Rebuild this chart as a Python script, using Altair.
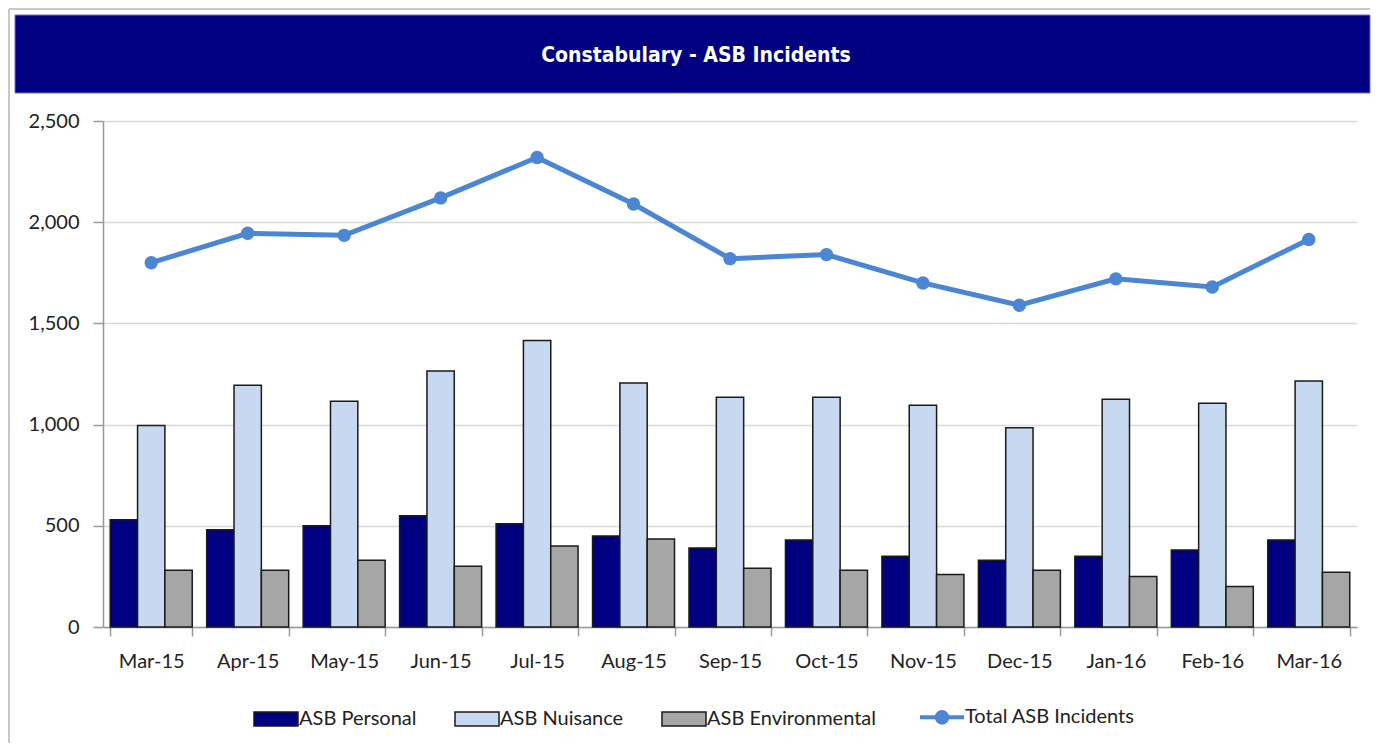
import altair as alt
import pandas as pd

months = ["Mar-15", "Apr-15", "May-15", "Jun-15", "Jul-15", "Aug-15", "Sep-15",
          "Oct-15", "Nov-15", "Dec-15", "Jan-16", "Feb-16", "Mar-16"]
personal = [530, 480, 500, 550, 510, 450, 390, 430, 350, 330, 350, 380, 430]
nuisance = [995, 1195, 1115, 1265, 1415, 1205, 1135, 1135, 1095, 985, 1125, 1105, 1215]
environmental = [280, 280, 330, 300, 400, 435, 290, 280, 260, 280, 250, 200, 270]
total = [1800, 1945, 1935, 2120, 2320, 2090, 1820, 1840, 1700, 1590, 1720, 1680, 1915]

series_names = ["ASB Personal", "ASB Nuisance", "ASB Environmental"]
series_colors = ["#000080", "#C6D9F0", "#A6A6A6"]
total_name = "Total ASB Incidents"
line_color = "#4A86D4"
edge_color = "#1a1a1a"
title_text = "Constabulary  - ASB Incidents"

rows = []
for name, vals in zip(series_names, [personal, nuisance, environmental]):
    for m, v in zip(months, vals):
        rows.append({"month": m, "series": name, "value": v})
df_bars = pd.DataFrame(rows)
df_total = pd.DataFrame({"month": months, "total": total, "series": [total_name] * len(months)})
df_title = pd.DataFrame({"t": [title_text]})

FONT = "Lato"
W, H = 1254, 506
all_names = series_names + [total_name]
fill_colors = series_colors + [line_color]
stroke_colors = [edge_color] * 3 + [line_color]

RECT = "M-1,-0.32H1V0.32H-1Z"
LINESYM = "M-1,0H1M-0.24,0A0.24,0.24,0,1,1,0.24,0A0.24,0.24,0,1,1,-0.24,0"
is_tot = "datum.value === '" + total_name + "'"
legend_encode = {"symbols": {"update": {
    "shape": {"signal": is_tot + " ? '" + LINESYM + "' : '" + RECT + "'"},
    "strokeWidth": {"signal": is_tot + " ? 4 : 1.5"},
    "size": {"value": 1936},
    "opacity": {"value": 1},
}}}

fill_scale = alt.Scale(domain=all_names, range=fill_colors)
stroke_scale = alt.Scale(domain=all_names, range=stroke_colors)
legend = alt.Legend(
    title=None, orient="none", legendX=163, legendY=586,
    direction="horizontal", padding=0, labelLimit=400,
    symbolSize=1936, symbolType=RECT,
    labelFont=FONT, labelFontSize=20, labelColor="#222222",
    labelOffset=13, columnPadding=35, symbolOpacity=1,
)

x_enc = alt.X(
    "month:N", sort=months, title=None,
    scale=alt.Scale(paddingInner=0.15, paddingOuter=0.075),
    axis=alt.Axis(labelAngle=0, tickBand="extent", tickSize=9, tickColor="#999999",
                  domainColor="#999999", domainWidth=1.5, tickWidth=1.5,
                  labelFont=FONT, labelFontSize=20, labelColor="#222222",
                  labelPadding=15, grid=False),
)
y_enc = alt.Y(
    "value:Q", title=None,
    scale=alt.Scale(domain=[0, 2500], nice=False),
    axis=alt.Axis(values=[0, 500, 1000, 1500, 2000, 2500], format=",.0f",
                  tickSize=10, tickColor="#999999", tickWidth=1.5,
                  domainColor="#999999", domainWidth=1.5,
                  gridColor="#D9D9D9", gridWidth=1.5,
                  labelFont=FONT, labelFontSize=20, labelColor="#222222",
                  labelPadding=14),
)

frame = alt.Chart(df_title).mark_rule(color="#C8C8C8", strokeWidth=2, clip=False).encode(
    x=alt.value(-94), y=alt.value(-112), y2=alt.value(622),
)
frame_top = alt.Chart(df_title).mark_rule(color="#C8C8C8", strokeWidth=2, clip=False).encode(
    x=alt.value(-94), x2=alt.value(1267), y=alt.value(-112),
)
banner_rect = alt.Chart(df_title).mark_rect(
    fill="#000080", stroke="#7070B8", strokeWidth=1, clip=False
).encode(
    x=alt.value(-88), x2=alt.value(1267), y=alt.value(-106), y2=alt.value(-28),
)
banner_text = alt.Chart(df_title).mark_text(
    font="DejaVu Sans Condensed, Lato", fontWeight="bold", fontSize=21, color="white",
    align="center", baseline="middle", clip=False,
).encode(text="t:N", x=alt.value(593), y=alt.value(-65))

bars = alt.Chart(df_bars).mark_bar(strokeWidth=1.5).encode(
    x=x_enc,
    xOffset=alt.XOffset("series:N", sort=series_names,
                        scale=alt.Scale(paddingInner=0, paddingOuter=0)),
    y=y_enc,
    fill=alt.Fill("series:N", scale=fill_scale, legend=legend),
    stroke=alt.Stroke("series:N", scale=stroke_scale, legend=legend),
)

line = alt.Chart(df_total).mark_line(strokeWidth=5).encode(
    x=alt.X("month:N", sort=months),
    y=alt.Y("total:Q"),
    stroke=alt.Stroke("series:N", scale=stroke_scale, legend=legend),
)

points = alt.Chart(df_total).mark_point(filled=True, size=180, opacity=1).encode(
    x=alt.X("month:N", sort=months),
    y=alt.Y("total:Q"),
    fill=alt.value(line_color),
)

chart = alt.layer(bars, line, points, frame, frame_top, banner_rect, banner_text).properties(
    width=W, height=H,
    padding={"left": 0, "top": 0, "right": 0, "bottom": 0},
    background="white",
).configure_view(stroke=None)


def _inject(obj):
    if isinstance(obj, dict):
        for k, v in obj.items():
            if k == "legend" and isinstance(v, dict) and v.get("symbolType") == RECT:
                v["encode"] = legend_encode
            else:
                _inject(v)
    elif isinstance(obj, list):
        for v in obj:
            _inject(v)


_orig_to_dict = alt.LayerChart.to_dict


def _to_dict(self, *args, **kwargs):
    kwargs["validate"] = False
    d = _orig_to_dict(self, *args, **kwargs)
    _inject(d)
    return d


alt.LayerChart.to_dict = _to_dict

chart.save("out.html", embed_options={"renderer": "svg", "actions": False})
